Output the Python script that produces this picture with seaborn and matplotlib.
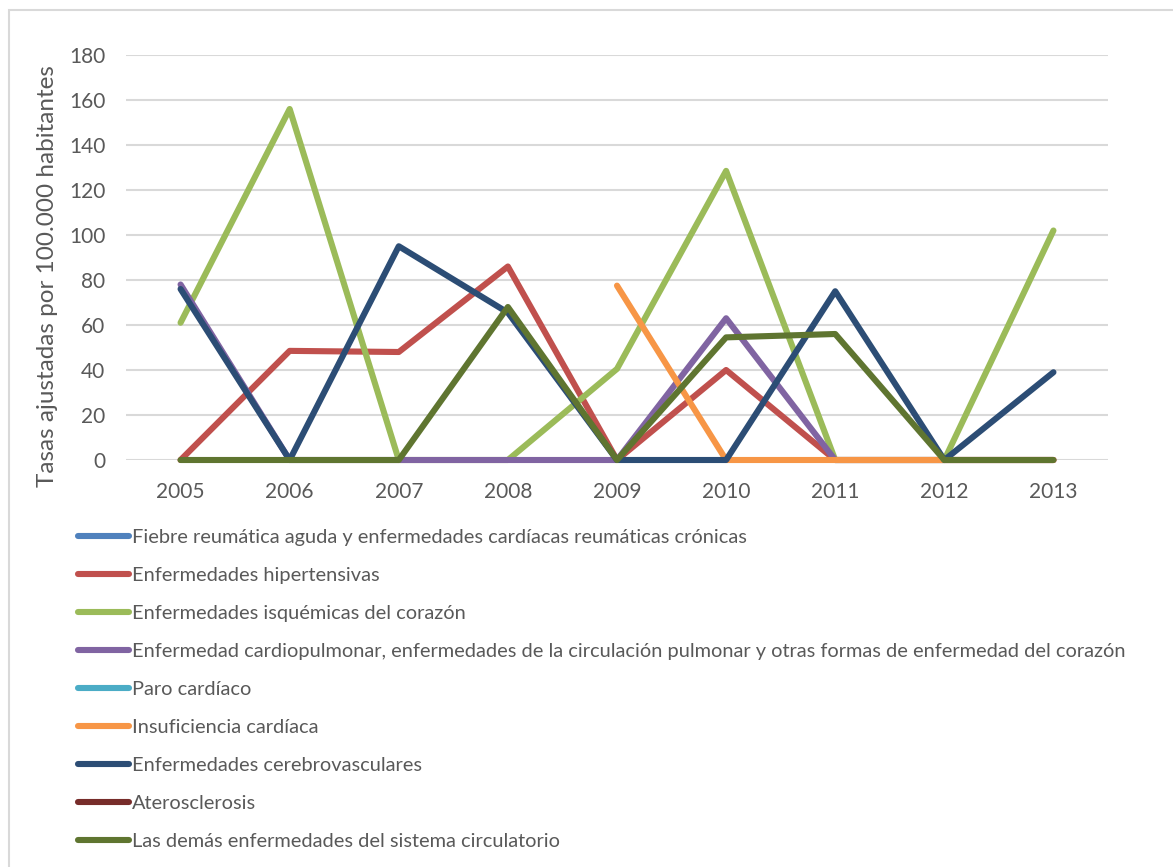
import numpy as np
import pandas as pd
import matplotlib
matplotlib.use("Agg")
import matplotlib.pyplot as plt
from matplotlib.lines import Line2D
from matplotlib.patches import Rectangle
import seaborn as sns

years = ["2005", "2006", "2007", "2008", "2009", "2010", "2011", "2012", "2013"]

nan = np.nan
fiebre_reumatica = [nan] * 9
hipertensivas = [0, 48.5, 48, 86, 0, 40, 0, 0, 0]
isquemicas = [61, 156, 0, 0, 40.5, 128.5, 0, 0, 102]
cardiopulmonar = [78, 0, 0, 0, 0, 63, 0, 0, 0]
paro_cardiaco = [nan] * 9
insuficiencia = [nan, nan, nan, nan, 77.5, 0, 0, 0, 0]
cerebrovasculares = [76, 0, 95, 65.5, 0, 0, 75, 0, 39]
aterosclerosis = [nan] * 9
las_demas = [0, 0, 0, 68, 0, 54.5, 56, 0, 0]

series_names = [
    "Fiebre reumática aguda y enfermedades cardíacas reumáticas crónicas",
    "Enfermedades hipertensivas",
    "Enfermedades isquémicas del corazón",
    "Enfermedad cardiopulmonar, enfermedades de la circulación pulmonar y otras formas de enfermedad del corazón",
    "Paro cardíaco",
    "Insuficiencia cardíaca",
    "Enfermedades cerebrovasculares",
    "Aterosclerosis",
    "Las demás enfermedades del sistema circulatorio",
]
series_values = [fiebre_reumatica, hipertensivas, isquemicas, cardiopulmonar,
                 paro_cardiaco, insuficiencia, cerebrovasculares,
                 aterosclerosis, las_demas]
colors = ["#4F81BD", "#C0504D", "#9BBB59", "#8064A2", "#4BACC6",
          "#F79646", "#2C4D75", "#772C2A", "#5F7530"]

text_color = "#595959"
sns.set_theme(style="white")
plt.rcParams["font.family"] = ["Lato", "DejaVu Sans"]

fig = plt.figure(figsize=(11.73, 8.67), dpi=100)
ax = fig.add_axes([126 / 1173, 1 - 460 / 867, (1108 - 126) / 1173, (460 - 55) / 867])

for name, vals, col in zip(series_names, series_values, colors):
    df = pd.DataFrame({"x": np.arange(len(years)), "y": vals}).dropna()
    if df.empty:
        continue
    sns.lineplot(data=df, x="x", y="y", ax=ax, color=col, linewidth=4.4,
                 solid_capstyle="round", solid_joinstyle="round",
                 estimator=None, sort=False, zorder=3, clip_on=False)

ax.set_xlim(-0.5, len(years) - 0.5)
ax.set_ylim(0, 180)
ax.set_yticks(np.arange(0, 181, 20))
ax.set_xticks(np.arange(len(years)))
ax.set_xticklabels(years)
ax.yaxis.grid(True, color="#D9D9D9", linewidth=1.5, zorder=0)
ax.xaxis.grid(False)
for s in ax.spines.values():
    s.set_visible(False)
ax.tick_params(axis="both", length=0, labelsize=15, labelcolor=text_color)
ax.tick_params(axis="y", pad=15)
ax.tick_params(axis="x", pad=16)
ax.set_xlabel("")
ax.set_ylabel("Tasas ajustadas por 100.000 habitantes", fontsize=17.5,
              color=text_color)
ax.yaxis.set_label_coords(-0.069, 0.454)

handles = [Line2D([0], [0], color=c, linewidth=4.4, solid_capstyle="round")
           for c in colors]
fig.legend(handles, series_names, loc="upper left",
           bbox_to_anchor=(70 / 1173, 1 - 521 / 867), frameon=False,
           fontsize=14.4, labelcolor=text_color, handlelength=2.55,
           handletextpad=0.15, labelspacing=1.05, borderaxespad=0)

# chart frame
fig.patches.append(Rectangle((9 / 1173, -0.1), 1.2, (1 - 9.5 / 867) + 0.1,
                             transform=fig.transFigure, fill=False,
                             edgecolor="#D9D9D9", linewidth=1.5))

fig.savefig("out.png", dpi=100, facecolor="white")
